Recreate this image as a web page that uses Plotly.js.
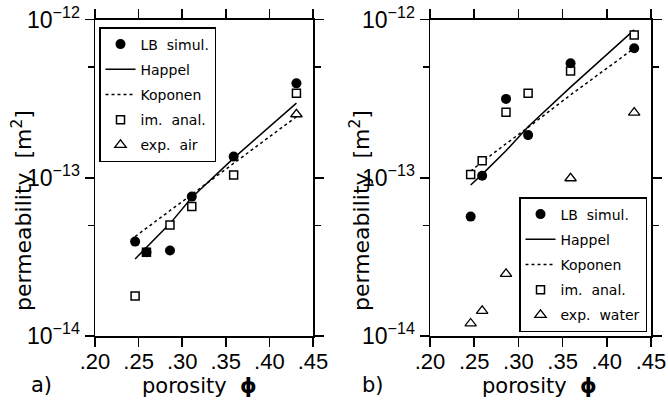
<!DOCTYPE html>
<html>
<head>
<meta charset="utf-8">
<script src="https://cdn.plot.ly/plotly-3.0.1.min.js"></script>
<style>
  html, body { margin: 0; padding: 0; background: #fff; }
  #chart { width: 668px; height: 402px; }
</style>
</head>
<body>
<div id="chart"></div>
<script>
// ---- data ----
const porosity = [0.246, 0.259, 0.286, 0.311, 0.359, 0.431];
const xTickVals = [0.20, 0.25, 0.30, 0.35, 0.40, 0.45];
const xTickText = ['.20', '.25', '.30', '.35', '.40', '.45'];
const yTickVals = [1e-14, 1e-13, 1e-12];
const yTickText = ['10<sup>\u221214</sup>', '10<sup>\u221213</sup>', '10<sup>\u221212</sup>'];
const yMinorVals = [5e-14, 5e-13];

// panel a (air)
const lbA = [3.95e-14, 3.38e-14, 3.47e-14, 7.6e-14, 1.36e-13, 3.95e-13];
const imA = [1.79e-14, 3.38e-14, 5.03e-14, 6.57e-14, 1.04e-13, 3.42e-13];
const happelA = [3.07e-14, 3.63e-14, 5.13e-14, 7.5e-14, 1.33e-13, 2.96e-13];
const koponenA = [4.25e-14, 4.8e-14, 6.2e-14, 7.8e-14, 1.23e-13, 2.43e-13];
const airPorosity = [0.431];
const airA = [2.52e-13];

// panel b (water)
const lbB = [5.68e-14, 1.03e-13, 3.15e-13, 1.86e-13, 5.29e-13, 6.58e-13];
const imB = [1.05e-13, 1.28e-13, 2.59e-13, 3.42e-13, 4.73e-13, 7.98e-13];
const happelB = [9.0e-14, 1.05e-13, 1.48e-13, 2.1e-13, 3.74e-13, 8.6e-13];
const koponenB = [1.1e-13, 1.26e-13, 1.64e-13, 2.08e-13, 3.34e-13, 6.58e-13];
const waterB = [1.2e-14, 1.44e-14, 2.47e-14, 3.67e-14, 9.93e-14, 2.58e-13];

const legendNames = ['LB\u00a0 simul.', 'Happel', 'Koponen', 'im.\u00a0 anal.'];
const FONT = 'DejaVu Sans, sans-serif';
const TICKFONT = 'Liberation Sans, Arial, sans-serif';

function panel(xa, ya, lg, lb, im, hap, kop, expX, expY, expName) {
  return [
    { x: porosity, y: hap, xaxis: xa, yaxis: ya, legend: lg, legendgroup: lg + '2', legendrank: 2,
      type: 'scatter', mode: 'lines', name: legendNames[1],
      line: { color: '#000', width: 1.5 } },
    { x: porosity, y: kop, xaxis: xa, yaxis: ya, legend: lg, legendgroup: lg + '3', legendrank: 3,
      type: 'scatter', mode: 'lines', name: legendNames[2],
      line: { color: '#000', width: 1.5, dash: 'dot' } },
    { x: porosity, y: im, xaxis: xa, yaxis: ya, legend: lg, legendgroup: lg + '4', legendrank: 4,
      type: 'scatter', mode: 'markers', name: legendNames[3],
      marker: { symbol: 'square', size: 8, color: '#fff', line: { color: '#000', width: 1.5 } } },
    { x: expX, y: expY, xaxis: xa, yaxis: ya, legend: lg, legendgroup: lg + '5', legendrank: 5,
      type: 'scatter', mode: 'markers', name: expName,
      marker: { symbol: 'triangle-up', size: 10, color: '#fff', line: { color: '#000', width: 1.3 } } },
    { x: porosity, y: lb, xaxis: xa, yaxis: ya, legend: lg, legendgroup: lg + '1', legendrank: 1,
      type: 'scatter', mode: 'markers', name: legendNames[0],
      marker: { symbol: 'circle', size: 10, color: '#000' } }
  ];
}

const traces = [].concat(
  panel('x', 'y', 'legend', lbA, imA, happelA, koponenA, airPorosity, airA, 'exp.\u00a0 air'),
  panel('x2', 'y2', 'legend2', lbB, imB, happelB, koponenB, porosity, waterB, 'exp.\u00a0 water')
);

const W = 668, H = 402;
function xAxis(d, anchor) {
  return {
    domain: d, anchor: anchor, range: [0.2, 0.45],
    tickmode: 'array', tickvals: xTickVals, ticktext: xTickText,
    ticks: 'outside', ticklen: 9, tickwidth: 1.5, tickcolor: '#000',
    showline: true, linewidth: 1.5, linecolor: '#000', mirror: 'ticks',
    showgrid: false, zeroline: false, ticklabelstandoff: -4,
    tickfont: { family: TICKFONT, size: 22, color: '#000' }
  };
}
function yAxis(anchor) {
  return {
    domain: [1 - 336 / H, 1 - 19.5 / H], anchor: anchor, type: 'log', range: [-14, -12],
    tickmode: 'array', tickvals: yTickVals, ticktext: yTickText,
    ticks: 'outside', ticklen: 9, tickwidth: 1.5, tickcolor: '#000',
    minor: { tickmode: 'array', tickvals: yMinorVals, ticks: 'outside', ticklen: 6, tickwidth: 1.5, tickcolor: '#000', showgrid: false },
    showline: true, linewidth: 1.5, linecolor: '#000', mirror: 'ticks',
    showgrid: false, zeroline: false,
    tickfont: { family: TICKFONT, size: 23, color: '#000' }
  };
}
const legendStyle = {
  yanchor: 'top', bgcolor: '#fff', bordercolor: '#000', borderwidth: 1.5,
  font: { family: FONT, size: 14, color: '#000' }, tracegroupgap: 4
};

function ann(text, x, y, extra) {
  return Object.assign({ text: text, xref: 'paper', yref: 'paper', x: x / W, y: 1 - y / H,
    xanchor: 'center', yanchor: 'middle', showarrow: false,
    font: { family: FONT, size: 22, color: '#000' } }, extra || {});
}
const titleFont = { family: FONT, size: 21, color: '#000' };

const layout = {
  width: W, height: H,
  margin: { l: 0, r: 0, t: 0, b: 0 },
  paper_bgcolor: '#fff', plot_bgcolor: '#fff',
  font: { family: FONT, color: '#000' },
  showlegend: true,
  xaxis: xAxis([95 / W, 313 / W], 'y'),
  yaxis: yAxis('x'),
  xaxis2: xAxis([430 / W, 651 / W], 'y2'),
  yaxis2: yAxis('x2'),
  legend: Object.assign({ x: 99 / W, xanchor: 'left', y: 1 - 27 / H }, legendStyle),
  legend2: Object.assign({ x: 647 / W, xanchor: 'right', y: 1 - 197 / H }, legendStyle),
  annotations: [
    ann('permeability\u00a0 [m<sup>2</sup>]', 22, 211, { textangle: -90 }),
    ann('permeability\u00a0 [m<sup>2</sup>]', 360, 211, { textangle: -90 }),
    ann('porosity\u00a0 <b>\u03d5</b>', 200, 386, { font: titleFont }),
    ann('porosity\u00a0 <b>\u03d5</b>', 539, 386, { font: titleFont }),
    ann('a)', 41, 385, { font: titleFont }),
    ann('b)', 373, 385, { font: titleFont })
  ]
};

Plotly.newPlot('chart', traces, layout, { displayModeBar: false, staticPlot: true });
</script>
</body>
</html>
